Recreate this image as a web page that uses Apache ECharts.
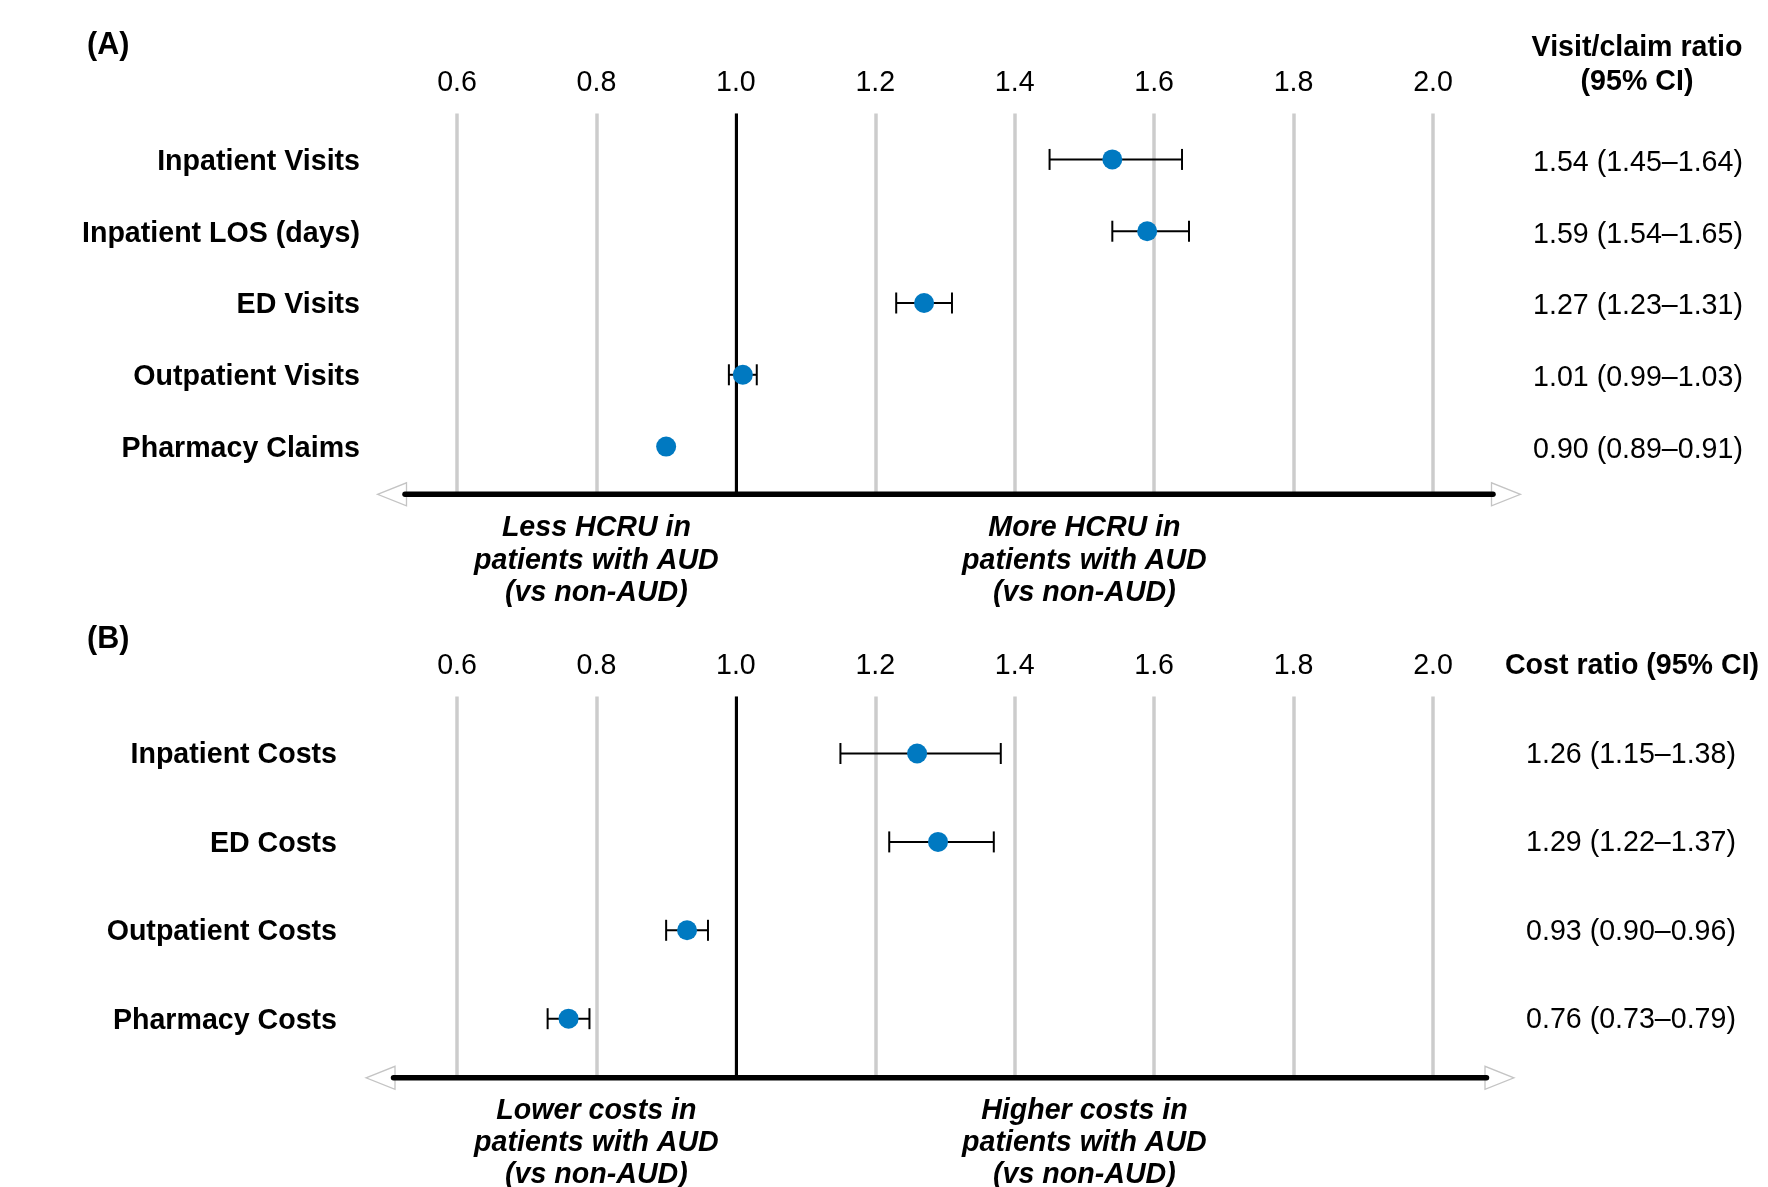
<!DOCTYPE html>
<html>
<head>
<meta charset="utf-8">
<script src="https://cdn.jsdelivr.net/npm/echarts@6/dist/echarts.min.js"></script>
<style>
html,body{margin:0;padding:0;background:#fff;}
#chart{width:1768px;height:1187px;}
</style>
</head>
<body>
<div id="chart"></div>
<script>
// ---- Data ----
const catsA = ['Inpatient Visits', 'Inpatient LOS (days)', 'ED Visits', 'Outpatient Visits', 'Pharmacy Claims'];
const estA = [1.54, 1.59, 1.27, 1.01, 0.90];
const loA = [1.45, 1.54, 1.23, 0.99, 0.89];
const hiA = [1.64, 1.65, 1.31, 1.03, 0.91];

const catsB = ['Inpatient Costs', 'ED Costs', 'Outpatient Costs', 'Pharmacy Costs'];
const estB = [1.26, 1.29, 0.93, 0.76];
const loB = [1.15, 1.22, 0.90, 0.73];
const hiB = [1.38, 1.37, 0.96, 0.79];

const xMin = 0.6, xMax = 2.0, xStep = 0.2, refValue = 1.0;

const headerA = ['Visit/claim ratio', '(95% CI)'];
const headerB = 'Cost ratio (95% CI)';
const footA = [['Less HCRU in', 'patients with AUD', '(vs non-AUD)'], ['More HCRU in', 'patients with AUD', '(vs non-AUD)']];
const footB = [['Lower costs in', 'patients with AUD', '(vs non-AUD)'], ['Higher costs in', 'patients with AUD', '(vs non-AUD)']];

// ---- Styles ----
const FONT = "'Liberation Sans', Arial, sans-serif";
const FS = 28.6;
const DOT = '#0079C1';
const DOT_SIZE = 20;

function ciText(e, l, h) { return e.toFixed(2) + ' (' + l.toFixed(2) + '\u2013' + h.toFixed(2) + ')'; }
function idxs(n) { return Array.from({length: n}, (_, i) => i); }

function xAxisCfg(gi) {
  return {
    gridIndex: gi, type: 'value', position: 'top', min: xMin, max: xMax, interval: xStep,
    axisLine: {show: false}, axisTick: {show: false},
    axisLabel: {fontSize: FS, color: '#000', fontFamily: FONT, margin: 16, formatter: v => v.toFixed(1)},
    splitLine: {show: true, lineStyle: {color: '#cccccc', width: 3.5}}
  };
}
function yAxisCfg(gi, cats, labels, side, yMin, yMax, margin, bold, align, shift) {
  return {
    gridIndex: gi, type: 'value', inverse: true, min: yMin, max: yMax, position: side,
    axisLine: {show: false}, axisTick: {show: false}, splitLine: {show: false},
    axisLabel: {
      customValues: idxs(cats.length),
      fontSize: FS, color: '#000', fontFamily: FONT, fontWeight: bold ? 'bold' : 'normal',
      margin: margin, align: align, verticalAlign: 'top', lineHeight: 2 * shift,
      formatter: v => (Number.isInteger(v) && v >= 0 && v < labels.length) ? labels[v] : ''
    }
  };
}
function errSeries(xi, yi, lo, hi, est) {
  return {
    type: 'custom', xAxisIndex: xi, yAxisIndex: yi, z: 3, silent: true,
    data: lo.map((l, i) => [l, hi[i], i, est[i]]),
    renderItem: function (params, api) {
      const y = api.value(2);
      const p0 = api.coord([api.value(0), y]);
      const p1 = api.coord([api.value(1), y]);
      const pc = api.coord([api.value(3), y]);
      const children = [{type: 'line', shape: {x1: p0[0], y1: p0[1], x2: p1[0], y2: p1[1]}, style: {stroke: '#000', lineWidth: 2}}];
      const half = 10.5;
      if (pc[0] - p0[0] > DOT_SIZE / 2) children.push({type: 'line', shape: {x1: p0[0], y1: p0[1] - half, x2: p0[0], y2: p0[1] + half}, style: {stroke: '#000', lineWidth: 2}});
      if (p1[0] - pc[0] > DOT_SIZE / 2) children.push({type: 'line', shape: {x1: p1[0], y1: p1[1] - half, x2: p1[0], y2: p1[1] + half}, style: {stroke: '#000', lineWidth: 2}});
      return {type: 'group', children: children};
    }
  };
}
function dotSeries(xi, yi, est) {
  return {
    type: 'scatter', xAxisIndex: xi, yAxisIndex: yi, z: 5, silent: true,
    symbol: 'circle', symbolSize: DOT_SIZE, itemStyle: {color: DOT, opacity: 1},
    data: est.map((e, i) => [e, i]),
    markLine: {
      silent: true, symbol: 'none', label: {show: false}, z: 4,
      lineStyle: {color: '#000', width: 3, type: 'solid'},
      data: [{xAxis: refValue}]
    }
  };
}

const chart = echarts.init(document.getElementById('chart'), null, {renderer: 'canvas'});

const gridA = {left: 457, right: 335, top: 113.5, height: 379};
const gridB = {left: 457, right: 335, top: 696.6, height: 379};

const option = {
  animation: false,
  backgroundColor: '#fff',
  grid: [gridA, gridB],
  xAxis: [xAxisCfg(0), xAxisCfg(1)],
  yAxis: [
    yAxisCfg(0, catsA, catsA, 'left', -0.64, 4.64, 97, true, 'right', 2.5),
    yAxisCfg(0, catsA, estA.map((e, i) => ciText(e, loA[i], hiA[i])), 'right', -0.64, 4.64, 205, false, 'center', 3.5),
    yAxisCfg(1, catsB, catsB, 'left', -0.644, 3.644, 120, true, 'right', 2),
    yAxisCfg(1, catsB, estB.map((e, i) => ciText(e, loB[i], hiB[i])), 'right', -0.644, 3.644, 198, false, 'center', 1.5)
  ],
  series: [
    errSeries(0, 0, loA, hiA, estA),
    dotSeries(0, 0, estA),
    errSeries(1, 2, loB, hiB, estB),
    dotSeries(1, 2, estB)
  ]
};
chart.setOption(option);

// ---- Decorations: direction axis with arrows, panel letters, headers, footers ----
function arrowAxis(y, x0, x1) {
  const h = 11.5, w = 28.5;
  return [
    {type: 'polygon', z: 10, shape: {points: [[x0 - w + 1, y], [x0 + 1.5, y - h], [x0 + 1.5, y + h]]}, style: {fill: '#fff', stroke: '#c4c4c4', lineWidth: 1.3}},
    {type: 'polygon', z: 10, shape: {points: [[x1 + w - 1, y], [x1 - 1.5, y - h], [x1 - 1.5, y + h]]}, style: {fill: '#fff', stroke: '#c4c4c4', lineWidth: 1.3}},
    {type: 'line', z: 11, shape: {x1: x0, y1: y, x2: x1, y2: y}, style: {stroke: '#000', lineWidth: 5.5, lineCap: 'round'}}
  ];
}
function txt(x, y, text, opts) {
  return {
    type: 'text', z: 12, x: x, y: y,
    style: Object.assign({text: text, fill: '#000', fontSize: FS, fontFamily: FONT, fontWeight: 'bold', textAlign: 'center', textVerticalAlign: 'middle'}, opts || {})
  };
}
const px = v => chart.convertToPixel({xAxisIndex: 0}, v);
const leftC = px(0.8), rightC = px(1.5);

const graphics = []
  .concat(arrowAxis(494.3, 405, 1493))
  .concat(arrowAxis(1077.8, 393.5, 1486.5))
  .concat([
    txt(87, 46, '(A)', {textAlign: 'left', fontSize: 30.5}),
    txt(87, 640, '(B)', {textAlign: 'left', fontSize: 30.5}),
    txt(1637, 48, headerA[0]),
    txt(1637, 82, headerA[1]),
    txt(1632, 666.5, headerB),
    txt(leftC, 561, footA[0].join('\n'), {fontStyle: 'italic', lineHeight: 32.5}),
    txt(rightC, 561, footA[1].join('\n'), {fontStyle: 'italic', lineHeight: 32.5}),
    txt(leftC, 1143.5, footB[0].join('\n'), {fontStyle: 'italic', lineHeight: 32}),
    txt(rightC, 1143.5, footB[1].join('\n'), {fontStyle: 'italic', lineHeight: 32})
  ]);
chart.setOption({graphic: graphics});
</script>
</body>
</html>
